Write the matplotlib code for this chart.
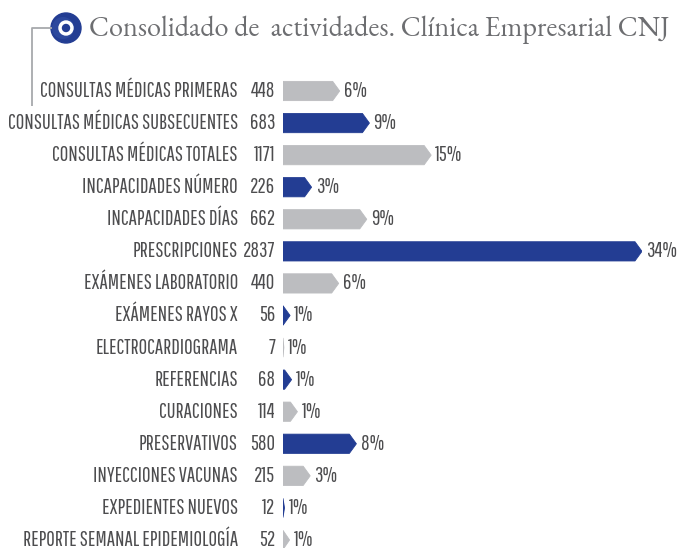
import numpy as np
import matplotlib
matplotlib.use('Agg')
import matplotlib.pyplot as plt
from matplotlib.patches import Polygon, Circle

# Datos del gráfico
categorias = [
    'CONSULTAS MÉDICAS PRIMERAS',
    'CONSULTAS MÉDICAS SUBSECUENTES',
    'CONSULTAS MÉDICAS TOTALES',
    'INCAPACIDADES NÚMERO',
    'INCAPACIDADES DÍAS',
    'PRESCRIPCIONES',
    'EXÁMENES LABORATORIO',
    'EXÁMENES RAYOS X',
    'ELECTROCARDIOGRAMA',
    'REFERENCIAS',
    'CURACIONES',
    'PRESERVATIVOS',
    'INYECCIONES VACUNAS',
    'EXPEDIENTES NUEVOS',
    'REPORTE SEMANAL EPIDEMIOLOGÍA',
]
valores = [448, 683, 1171, 226, 662, 2837, 440, 56, 7, 68, 114, 580, 215, 12, 52]
porcentajes = ['6%', '9%', '15%', '3%', '9%', '34%', '6%', '1%', '1%', '1%',
               '1%', '8%', '3%', '1%', '1%']
titulo = 'Consolidado de  actividades. Clínica Empresarial CNJ'

AZUL = '#233d93'
GRIS = '#bcbdc0'
TEXTO = '#4d4d4f'

W, H = 677, 548
fig = plt.figure(figsize=(W / 100, H / 100), dpi=100)

# Capa de decoración en píxeles (título, círculo, líneas)
deco = fig.add_axes([0, 0, 1, 1])
deco.set_xlim(0, W)
deco.set_ylim(H, 0)
deco.axis('off')
deco.plot([32, 32, 52], [106, 28, 28], color='#a7a9ac', lw=1.3, solid_capstyle='butt')
deco.add_patch(Circle((66, 28), 15, color=AZUL))
deco.add_patch(Circle((63, 28), 11, color='#3554a8', alpha=0.5, lw=0))
deco.add_patch(Circle((66, 28), 7, color='white'))
deco.add_patch(Circle((66, 28), 3.5, color=AZUL))
deco.text(89, 30, titulo, fontsize=20.3, family=['EB Garamond', 'Liberation Serif'],
          color='#6d6e71', va='center', ha='left')

# Ejes principales de barras
n = len(valores)
fila = 32.07
top = 91 - fila / 2
alto = fila * n
x0, x1 = 283, 642
ax = fig.add_axes([x0 / W, 1 - (top + alto) / H, (x1 - x0) / W, alto / H])
ax.set_xlim(0, max(valores))
ax.set_ylim(n - 0.5, -0.5)
ax.axis('off')

h = 0.6
punta = 7 * max(valores) / (x1 - x0)  # profundidad de la punta en unidades
fuente = ['Pathway Gothic One', 'Roboto Condensed', 'DejaVu Sans']
tam = 15

for i, (cat, v, p) in enumerate(zip(categorias, valores, porcentajes)):
    color = GRIS if i % 2 == 0 else AZUL
    d = min(punta, v)
    pts = [(0, i - h / 2), (v - d, i - h / 2), (v, i), (v - d, i + h / 2), (0, i + h / 2)]
    ax.add_patch(Polygon(pts, closed=True, facecolor=color, edgecolor=color,
                         lw=0.6, joinstyle='miter'))
    ax.annotate(cat, xy=(0, i), xytext=(-32.5, 0), textcoords='offset points',
                ha='right', va='center', fontsize=tam, family=fuente, color=TEXTO,
                annotation_clip=False)
    ax.annotate(str(v), xy=(0, i), xytext=(-5.5, 0), textcoords='offset points',
                ha='right', va='center', fontsize=tam, family=fuente, color=TEXTO,
                annotation_clip=False)
    ax.annotate(p, xy=(v, i), xytext=(3, 0), textcoords='offset points',
                ha='left', va='center', fontsize=tam, family=fuente, color=TEXTO,
                annotation_clip=False)

fig.savefig('out.png', dpi=100)
